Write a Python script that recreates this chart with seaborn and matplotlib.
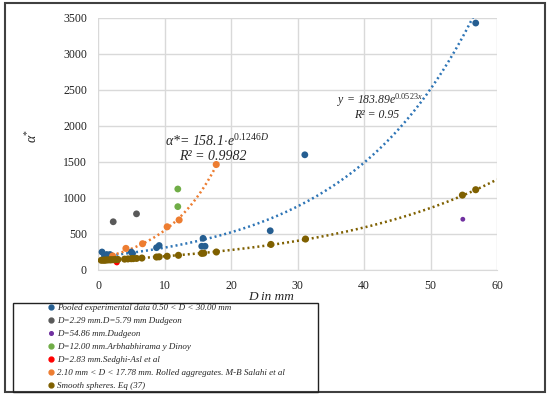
import numpy as np
import pandas as pd
import seaborn as sns
import matplotlib.pyplot as plt
from matplotlib.patches import Rectangle
from matplotlib.lines import Line2D

# datos
pooled_d = [0.6, 1.0, 1.3, 1.5, 1.8, 2.0, 5.0, 5.2, 8.8, 9.2, 15.8, 15.6, 16.1, 25.9, 31.1, 56.8]
pooled_a = [250, 200, 215, 190, 215, 200, 250, 230, 310, 340, 440, 330, 330, 545, 1600, 3430]

dudgeon_d = [2.29, 5.79]
dudgeon_a = [670, 780]

dudgeon54_d = [54.86]
dudgeon54_a = [705]

arbh_d = [12.0, 12.0]
arbh_a = [1125, 880]

sedghi_d = [2.83]
sedghi_a = [105]

rolled_d = [2.2, 4.2, 6.7, 10.4, 12.2, 17.78]
rolled_a = [195, 300, 365, 600, 695, 1465]

smooth_d = [0.5, 0.8, 1.0, 1.2, 1.5, 1.8, 2.0, 2.3, 2.6, 3.0, 4.0, 4.5, 5.0, 5.3, 5.8, 6.6,
            8.8, 9.2, 10.4, 12.1, 15.6, 15.9, 17.8, 26.0, 31.2, 54.8, 56.8]
smooth_a = [135, 136, 137, 138, 140, 141, 142, 143, 145, 146, 151, 154, 157, 158, 161, 166,
            180, 183, 191, 204, 231, 234, 250, 355, 430, 1040, 1115]

# coeficientes de las lineas de tendencia (de las etiquetas)
pooled_fit = (183.89, 0.0523)
rolled_fit = (158.1, 0.1246)

labels = ["Pooled experimental data 0.50 < D < 30.00 mm",
          "D=2.29 mm.D=5.79 mm Dudgeon",
          "D=54.86 mm.Dudgeon",
          "D=12.00 mm.Arbhabhirama y Dinoy",
          "D=2.83 mm.Sedghi-Asl et al",
          "2.10 mm < D < 17.78 mm. Rolled aggregates. M-B Salahi et al",
          "Smooth spheres. Eq (37)"]
colores = ["#255E91", "#595959", "#7030A0", "#70AD47", "#FF0000", "#ED7D31", "#7F6000"]

sns.set_style("white")
plt.rcParams["font.family"] = ["Liberation Serif", "DejaVu Serif"]
plt.rcParams["mathtext.fontset"] = "custom"
plt.rcParams["mathtext.rm"] = "Liberation Serif"
plt.rcParams["mathtext.it"] = "Liberation Serif:italic"

fig = plt.figure(figsize=(5.5, 3.99), dpi=100)
ax = fig.add_axes([98/550, 1 - 270/399, 399/550, 252/399])

# lineas de tendencia
x1 = np.linspace(0.5, 56.4, 200)
sns.lineplot(x=x1, y=pooled_fit[0]*np.exp(pooled_fit[1]*x1), ax=ax, color="#2E75B6",
             lw=1.8, linestyle=(0, (0.8, 1.2)), zorder=2)
x2 = np.linspace(2.1, 17.78, 100)
sns.lineplot(x=x2, y=rolled_fit[0]*np.exp(rolled_fit[1]*x2), ax=ax, color="#ED7D31",
             lw=1.8, linestyle=(0, (0.8, 1.2)), zorder=2)
b, ln_a = np.polyfit(smooth_d, np.log(smooth_a), 1)
x3 = np.linspace(0, 60, 200)
sns.lineplot(x=x3, y=np.exp(ln_a)*np.exp(b*x3), ax=ax, color="#7F6000",
             lw=1.8, linestyle=(0, (0.8, 1.2)), zorder=2)

# puntos
series = [(pooled_d, pooled_a, 24), (dudgeon_d, dudgeon_a, 24), (dudgeon54_d, dudgeon54_a, 12),
          (arbh_d, arbh_a, 24), (sedghi_d, sedghi_a, 18), (rolled_d, rolled_a, 26),
          (smooth_d, smooth_a, 26)]
for (d, a, s), c in zip(series, colores):
    sns.scatterplot(x=d, y=a, ax=ax, color=c, s=s, edgecolor="none", zorder=3)

ax.set_xlim(0, 60)
ax.set_ylim(0, 3500)
ax.set_xticks(range(0, 61, 10))
ax.set_yticks(range(0, 3501, 500))
ax.grid(True, color="#D9D9D9", lw=1)
for sp in ax.spines.values():
    sp.set_visible(False)
ax.spines["bottom"].set_visible(True)
ax.spines["bottom"].set_color("#D9D9D9")
ax.tick_params(axis="both", length=0, labelsize=8.5, colors="#222222")
ax.tick_params(axis="y", pad=8)
ax.tick_params(axis="x", pad=7)
ax.set_xlabel("")
ax.set_ylabel("")

fig.text(271/550, 1 - 297/399, "D in mm", style="italic", fontsize=9.5, ha="center", va="center")
fig.text(32/550, 1 - 136/399, r"$\alpha^{*}$", fontsize=10, rotation=90, ha="center", va="center")

ax.text(10.1, 1790, r"$\alpha$*= 158.1$\cdot$e$^{0.1246D}$", style="italic", fontsize=10, va="center")
ax.text(12.2, 1574, "R² = 0.9982", style="italic", fontsize=10, va="center")
ax.text(35.9, 2365, r"y = 183.89e$^{0.0523x}$", style="italic", fontsize=8.5, va="center")
ax.text(38.5, 2150, "R² = 0.95", style="italic", fontsize=8.5, va="center")

# marcos
fig.patches.append(Rectangle((5/550, 7/399), 540/550, 389/399, transform=fig.transFigure,
                             fill=False, edgecolor="#404040", lw=1.5))
fig.patches.append(Rectangle((13/550, 7/399), 305/550, 89/399, transform=fig.transFigure,
                             fill=False, edgecolor="#222222", lw=1.0))

handles = [Line2D([], [], marker="o", color=c, linestyle="none", markersize=3.5 if i != 2 else 2.6)
           for i, c in enumerate(colores)]
fig.legend(handles, labels, loc="upper left", bbox_to_anchor=(47/550, 1 - 304/399),
           frameon=False, prop={"style": "italic", "size": 6.5}, handlelength=0.8,
           handletextpad=0.3, labelspacing=0.52, borderpad=0, borderaxespad=0)

fig.savefig("out.png", dpi=100)
